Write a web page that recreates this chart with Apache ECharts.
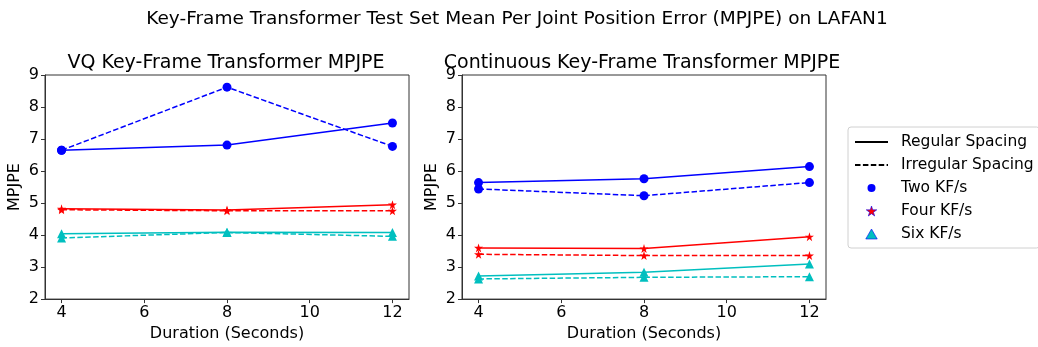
<!DOCTYPE html>
<html>
<head>
<meta charset="utf-8">
<script src="https://cdn.jsdelivr.net/npm/echarts@6/dist/echarts.min.js"></script>
<style>
  html, body { margin: 0; padding: 0; background: #fff; }
  #chart { width: 1038px; height: 347px; }
</style>
</head>
<body>
<div id="chart"></div>
<script type="text/javascript">
// durations on x axis (seconds)
var durations = [4, 8, 12];
var xTicks = [4, 6, 8, 10, 12];

// VQ key-frame transformer
var vqTwoRegular = [6.65, 6.81, 7.50];
var vqTwoIrregular = [6.65, 8.62, 6.77];
var vqFourRegular = [4.82, 4.78, 4.95];
var vqFourIrregular = [4.79, 4.76, 4.76];
var vqSixRegular = [4.04, 4.09, 4.08];
var vqSixIrregular = [3.91, 4.08, 3.96];

// continuous key-frame transformer
var ctTwoRegular = [5.64, 5.76, 6.14];
var ctTwoIrregular = [5.44, 5.23, 5.64];
var ctFourRegular = [3.60, 3.58, 3.95];
var ctFourIrregular = [3.40, 3.36, 3.36];
var ctSixRegular = [2.72, 2.84, 3.10];
var ctSixIrregular = [2.63, 2.68, 2.70];

var FONT = 'DejaVu Sans';
var STAR = 'path://M50,0 L61,35 L98,35 L68,57 L79,91 L50,70 L21,91 L32,57 L2,35 L39,35 Z';
var TRI = 'path://M50,0 L100,87 L0,87 Z';
var DASH = [5.5, 2.4];

function pairs(vals) {
  var out = [];
  for (var i = 0; i < durations.length; i++) out.push([durations[i], vals[i]]);
  return out;
}

function line(idx, vals, color, symbol, size, dashed) {
  return {
    type: 'line',
    xAxisIndex: idx, yAxisIndex: idx,
    data: pairs(vals),
    symbol: symbol, symbolSize: size,
    color: color,
    itemStyle: { color: color },
    lineStyle: { color: color, width: 1.5, type: dashed ? DASH : 'solid' },
    emphasis: { disabled: true },
    animation: false
  };
}

function xAxis(idx) {
  return {
    type: 'value', gridIndex: idx, min: 3.6, max: 12.4,
    name: 'Duration (Seconds)', nameLocation: 'middle', nameGap: 24,
    nameTextStyle: { fontFamily: FONT, fontSize: 16, color: '#000' },
    axisLine: { show: true, lineStyle: { color: '#333', width: 1 } },
    axisTick: { show: true, inside: false, length: 4, customValues: xTicks, lineStyle: { color: '#333' } },
    axisLabel: { margin: 6, customValues: xTicks, fontFamily: FONT, fontSize: 16, color: '#000' },
    splitLine: { show: false }
  };
}

function yAxis(idx) {
  return {
    type: 'value', gridIndex: idx, min: 2, max: 9, interval: 1,
    name: 'MPJPE', nameLocation: 'middle', nameGap: 22,
    nameTextStyle: { fontFamily: FONT, fontSize: 16, color: '#000' },
    axisLine: { show: true, lineStyle: { color: '#333', width: 1 } },
    axisTick: { show: true, inside: false, length: 4, lineStyle: { color: '#333' } },
    axisLabel: { margin: 6, fontFamily: FONT, fontSize: 16, color: '#000' },
    splitLine: { show: false }
  };
}

var series = [
  line(0, vqTwoRegular, '#0000ff', 'circle', 9, false),
  line(0, vqTwoIrregular, '#0000ff', 'circle', 9, true),
  line(0, vqFourRegular, '#ff0000', STAR, 9, false),
  line(0, vqFourIrregular, '#ff0000', STAR, 9, true),
  line(0, vqSixRegular, '#00bfbf', 'triangle', 9, false),
  line(0, vqSixIrregular, '#00bfbf', 'triangle', 9, true),
  line(1, ctTwoRegular, '#0000ff', 'circle', 9, false),
  line(1, ctTwoIrregular, '#0000ff', 'circle', 9, true),
  line(1, ctFourRegular, '#ff0000', STAR, 9, false),
  line(1, ctFourIrregular, '#ff0000', STAR, 9, true),
  line(1, ctSixRegular, '#00bfbf', 'triangle', 9, false),
  line(1, ctSixIrregular, '#00bfbf', 'triangle', 9, true)
];

// legend-only entries
series.push(
  { type: 'line', name: 'Regular Spacing', data: [], symbol: 'none',
    itemStyle: { color: 'rgba(0,0,0,0)' }, lineStyle: { color: '#000', width: 1.5 } },
  { type: 'line', name: 'Irregular Spacing', data: [], symbol: 'none',
    itemStyle: { color: 'rgba(0,0,0,0)' }, lineStyle: { color: '#000', width: 1.5, type: DASH } },
  { type: 'line', name: 'Two KF/s', data: [], symbol: 'circle', color: '#0000ff',
    itemStyle: { color: '#0000ff' }, lineStyle: { color: 'rgba(0,0,0,0)', width: 0 } },
  { type: 'line', name: 'Four KF/s', data: [], symbol: STAR, color: '#ff0000',
    itemStyle: { color: '#ff0000' }, lineStyle: { color: 'rgba(0,0,0,0)', width: 0 } },
  { type: 'line', name: 'Six KF/s', data: [], symbol: 'triangle', color: '#00bfbf',
    itemStyle: { color: '#00bfbf' }, lineStyle: { color: 'rgba(0,0,0,0)', width: 0 } }
);

var option = {
  backgroundColor: '#fff',
  animation: false,
  title: [
    { text: 'Key-Frame Transformer Test Set Mean Per Joint Position Error (MPJPE) on LAFAN1',
      left: 517, top: 10, textAlign: 'center', padding: 0,
      textStyle: { fontFamily: FONT, fontSize: 18.5, fontWeight: 'normal', color: '#000' } },
    { text: 'VQ Key-Frame Transformer MPJPE',
      left: 226, top: 54, textAlign: 'center', padding: 0,
      textStyle: { fontFamily: FONT, fontSize: 19, fontWeight: 'normal', color: '#000' } },
    { text: 'Continuous Key-Frame Transformer MPJPE',
      left: 642, top: 54, textAlign: 'center', padding: 0,
      textStyle: { fontFamily: FONT, fontSize: 19, fontWeight: 'normal', color: '#000' } }
  ],
  legend: {
    data: [
      'Regular Spacing',
      'Irregular Spacing',
      'Two KF/s',
      { name: 'Four KF/s', icon: STAR, itemStyle: { color: '#ff0000', borderColor: '#0000ff', borderWidth: 0.6 } },
      { name: 'Six KF/s', icon: TRI, itemStyle: { color: '#00bfbf', borderColor: '#0000ff', borderWidth: 0.6 } }
    ],
    orient: 'vertical', left: 848, top: 127,
    padding: [7, 6, 6, 6], itemGap: 7, itemWidth: 33, itemHeight: 10,
    borderColor: '#d0d0d0', borderWidth: 1, borderRadius: 3,
    selectedMode: false,
    textStyle: { fontFamily: FONT, fontSize: 15.5, color: '#000', lineHeight: 15, padding: [0, 0, 0, 8] }
  },
  grid: [
    { left: 45, top: 75, width: 364, height: 226, show: true, borderColor: '#333', borderWidth: 1, backgroundColor: 'transparent' },
    { left: 462, top: 75, width: 364, height: 226, show: true, borderColor: '#333', borderWidth: 1, backgroundColor: 'transparent' }
  ],
  xAxis: [xAxis(0), xAxis(1)],
  yAxis: [yAxis(0), yAxis(1)],
  series: series
};

var myChart = echarts.init(document.getElementById('chart'), null, { renderer: 'canvas' });
myChart.setOption(option);
</script>
</body>
</html>
